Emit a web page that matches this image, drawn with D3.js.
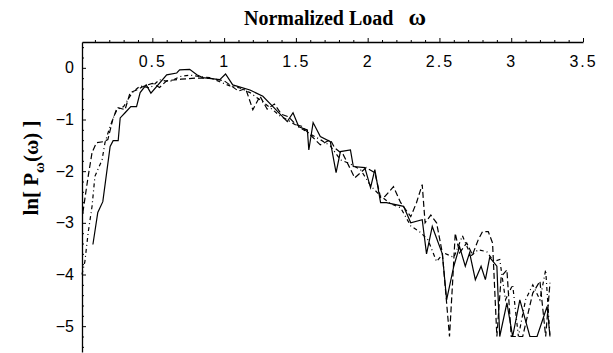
<!DOCTYPE html>
<html>
<head>
<meta charset="utf-8">
<script src="https://cdn.jsdelivr.net/npm/d3@7"></script>
<style>
body { margin:0; background:#fff; }
svg { display:block; }
</style>
</head>
<body>
<svg id="chart"></svg>
<script>
// solid series
var solidX = [0.086,0.12,0.155,0.206,0.227,0.262,0.276,0.31,0.35,0.39,0.415,0.457,0.49,0.60,0.67,0.69,0.76,0.81,0.85,0.97,1.01,1.06,1.18,1.27,1.34,1.44,1.48,1.52,1.58,1.59,1.62,1.67,1.74,1.78,1.81,1.88,1.90,1.98,2.02,2.05,2.09,2.13,2.25,2.30,2.38,2.41,2.45,2.52,2.55,2.60,2.64,2.68,2.71,2.75,2.79,2.82,2.85,2.90,2.92,2.97,3.01,3.06,3.13,3.18,3.25,3.27];
var solidY = [-3.42,-2.80,-2.59,-1.52,-1.41,-1.41,-0.97,-0.87,-0.75,-0.75,-0.48,-0.33,-0.49,-0.135,-0.10,-0.04,-0.03,-0.135,-0.19,-0.23,-0.12,-0.33,-0.43,-0.55,-0.75,-1.04,-0.87,-1.14,-1.2,-1.59,-1.06,-1.33,-1.43,-2.03,-1.62,-1.59,-1.91,-1.93,-2.32,-1.97,-2.61,-2.61,-2.68,-3.0,-2.94,-3.6,-3.07,-3.6,-4.49,-3.84,-3.46,-3.84,-3.58,-4.1,-3.84,-4.1,-3.67,-3.84,-5.2,-4.55,-5.2,-4.49,-5.2,-5.2,-4.62,-5.2];

// dashed series
var dashX = [0.016,0.053,0.08,0.11,0.157,0.19,0.227,0.26,0.31,0.345,0.39,0.436,0.50,0.55,0.60,0.70,0.80,0.90,1.00,1.05,1.10,1.15,1.20,1.25,1.30,1.35,1.40,1.45,1.50,1.54,1.67,1.74,1.77,1.83,1.91,1.99,2.05,2.09,2.12,2.18,2.23,2.30,2.34,2.38,2.40,2.44,2.48,2.52,2.57,2.59,2.61,2.64,2.69,2.73,2.77,2.80,2.84,2.87,2.90,2.93,2.97,3.00,3.08,3.15,3.20,3.24,3.27];
var dashY = [-2.8,-2.10,-1.64,-1.45,-1.43,-1.39,-0.97,-0.77,-0.81,-0.48,-0.43,-0.36,-0.30,-0.38,-0.25,-0.22,-0.20,-0.20,-0.25,-0.35,-0.45,-0.40,-0.81,-0.55,-0.80,-0.70,-0.90,-0.95,-1.10,-1.13,-1.49,-1.39,-1.55,-1.68,-2.13,-1.93,-2.03,-2.51,-2.49,-2.30,-2.61,-2.88,-2.61,-2.26,-3.0,-2.85,-3.0,-3.58,-5.2,-4.23,-3.2,-3.58,-3.39,-3.62,-3.33,-3.17,-3.17,-3.39,-5.2,-4.04,-3.91,-5.2,-5.2,-4.36,-4.13,-5.2,-4.16];

// dash-dot series
var dotX = [0.01,0.03,0.053,0.08,0.10,0.15,0.17,0.206,0.25,0.30,0.36,0.415,0.485,0.55,0.62,0.69,0.76,0.83,0.90,0.97,1.04,1.11,1.18,1.25,1.32,1.39,1.46,1.53,1.60,1.67,1.74,1.81,1.88,1.95,2.02,2.09,2.16,2.23,2.30,2.37,2.42,2.48,2.53,2.60,2.66,2.72,2.77,2.83,2.88,2.92,2.96,3.01,3.05,3.10,3.15,3.20,3.24,3.27];
var dotY = [-4.0,-3.75,-3.19,-2.68,-2.1,-1.78,-1.45,-1.13,-0.81,-0.75,-0.48,-0.35,-0.39,-0.23,-0.27,-0.17,-0.14,-0.17,-0.19,-0.27,-0.35,-0.39,-0.48,-0.62,-0.77,-0.93,-1.04,-1.16,-1.28,-1.39,-1.51,-1.78,-1.86,-1.97,-2.28,-2.48,-2.63,-2.71,-3.06,-3.19,-3.33,-3.75,-3.58,-3.67,-3.25,-3.64,-3.52,-3.56,-3.75,-3.71,-4.49,-4.2,-5.2,-4.49,-4.2,-4.49,-3.91,-5.2];

var xTicks = [0.5, 1, 1.5, 2, 2.5, 3, 3.5];
var yTicks = [0, -1, -2, -3, -4, -5];

var screen = {width:613, height:353};

var svg = d3.select("#chart")
    .attr("width", screen.width)
    .attr("height", screen.height);

var xScale = d3.scaleLinear().domain([0.01, 3.5]).range([82, 583]);
var yScale = d3.scaleLinear().domain([0.5, -5.5]).range([42, 352]);

var axisY0 = yScale(0.5);
var axisX0 = xScale(0.01);

// minor ticks
var xMinor = d3.range(1, 35).map(function(i){ return i/10; })
    .filter(function(d){ return Math.abs(d*2 - Math.round(d*2)) > 1e-6; });
var yMinor = d3.range(-27, 3).map(function(i){ return i/5; })
    .filter(function(d){ return Math.abs(d - Math.round(d)) > 1e-6; });

svg.append("g")
    .attr("transform", "translate(0," + axisY0 + ")")
    .call(d3.axisBottom(xScale).tickValues(xMinor).tickSizeInner(-2).tickSizeOuter(0).tickFormat(""))
    .call(function(g){ g.select(".domain").remove(); });

var xAxis = svg.append("g")
    .attr("transform", "translate(0," + axisY0 + ")")
    .call(d3.axisBottom(xScale).tickValues(xTicks).tickSizeInner(-4).tickSizeOuter(0)
        .tickFormat(function(d){ return String(d); }));
xAxis.selectAll("text")
    .attr("y", 25)
    .attr("dy", 0)
    .attr("font-family", "Liberation Sans, Arial, sans-serif")
    .attr("font-size", "16px")
    .attr("letter-spacing", "2px")
    .attr("fill", "#000");

svg.append("g")
    .attr("transform", "translate(" + axisX0 + ",0)")
    .call(d3.axisLeft(yScale).tickValues(yMinor).tickSizeInner(-2).tickSizeOuter(0).tickFormat(""))
    .call(function(g){ g.select(".domain").remove(); });

var yAxis = svg.append("g")
    .attr("transform", "translate(" + axisX0 + ",0)")
    .call(d3.axisLeft(yScale).tickValues(yTicks).tickSizeInner(-4).tickSizeOuter(0)
        .tickFormat(d3.format("d")));
yAxis.selectAll("text")
    .attr("x", -8)
    .attr("font-family", "Liberation Sans, Arial, sans-serif")
    .attr("font-size", "16px")
    .attr("fill", "#000");

svg.selectAll(".domain").attr("stroke", "#000").attr("stroke-width", 1.3);
svg.selectAll(".tick line").attr("stroke", "#000");

// curves
var series = [
    {x: solidX, y: solidY, dash: null},
    {x: dashX, y: dashY, dash: "6,3"},
    {x: dotX, y: dotY, dash: "4,3,1,3"}
];

var line = d3.line()
    .x(function(d){ return xScale(d[0]); })
    .y(function(d){ return yScale(d[1]); });

series.forEach(function(s){
    var pts = s.x.map(function(v, i){ return [v, s.y[i]]; });
    svg.append("path")
        .datum(pts)
        .attr("d", line)
        .attr("fill", "none")
        .attr("stroke", "#000")
        .attr("stroke-width", 1.2)
        .attr("stroke-dasharray", s.dash);
});

// title
var tt = svg.append("text")
    .attr("x", 335)
    .attr("y", 25)
    .attr("text-anchor", "middle")
    .attr("font-family", "Liberation Serif, Times New Roman, serif")
    .attr("font-weight", "bold")
    .attr("font-size", "20px")
    .attr("xml:space", "preserve");
tt.append("tspan").text("Normalized Load   ");
tt.append("tspan").attr("font-size", "24px").text("ω");

// y label
var yl = svg.append("text")
    .attr("transform", "translate(38,168) rotate(-90)")
    .attr("text-anchor", "middle")
    .attr("font-family", "Liberation Serif, Times New Roman, serif")
    .attr("font-weight", "bold")
    .attr("font-size", "21px")
    .attr("xml:space", "preserve");
yl.append("tspan").text("ln[ P");
yl.append("tspan").attr("dy", 6).attr("font-size", "15px").text("ω");
yl.append("tspan").attr("dy", -6).text("(ω) ]");
</script>
</body>
</html>
